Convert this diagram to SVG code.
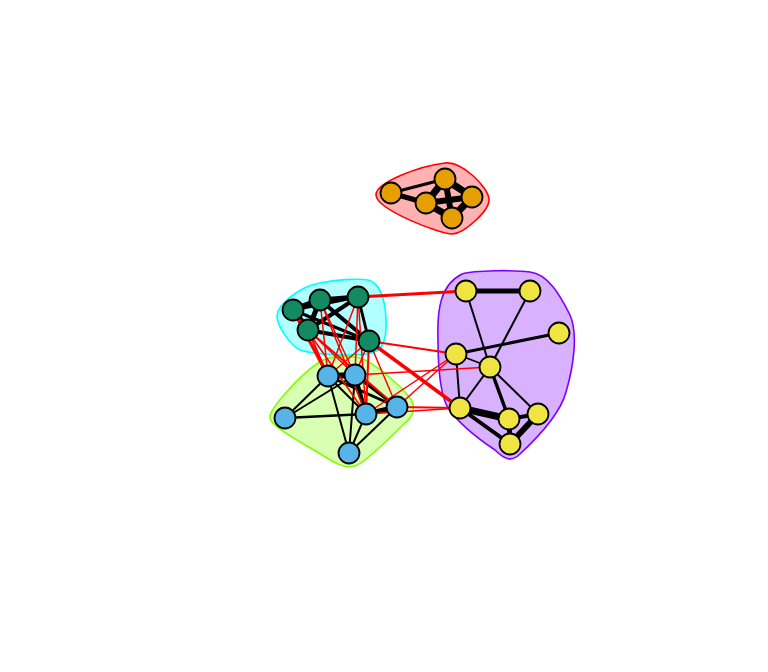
<svg xmlns="http://www.w3.org/2000/svg" width="768" height="672" viewBox="0 0 768 672">
<style>
.hull{stroke-width:1.6}
.e{stroke:#000;fill:none}
.r{stroke:#FF0000;fill:none}
.n{stroke:#000;stroke-width:1.8}
.o{fill:#E69F00}.g{fill:#138A62}.b{fill:#56B4E9}.y{fill:#F0E442}
</style>
<rect width="768" height="672" fill="#fff"/>
<g id="hulls">
<path id="hull-red" class="hull" fill="#FF0000" fill-opacity="0.3" stroke="#FF0000" d="M376,195 C376,182 420,166 445,163 C462,161 488,187 489,199 C490,211 463,234 452,234 C440,234 377,210 376,195 Z"/>
<path id="hull-cyan" class="hull" fill="#00FFFF" fill-opacity="0.3" stroke="#00FFFF" d="M277,316 C277,305 300,286 320,283 C335,280 356,278 368,280 C380,283 385,300 386,318 C387,338 384,352 368,354 C350,356 315,355 300,350 C290,345 277,326 277,316 Z"/>
<path id="hull-green" class="hull" fill="#80FF00" fill-opacity="0.3" stroke="#80FF00" d="M270,418 C268,410 300,375 318,363 C330,355 348,355 360,358 C375,363 400,385 410,398 C416,406 414,416 405,423 C390,438 365,463 355,466 C345,469 335,463 322,455 C305,444 272,428 270,418 Z"/>
<path id="hull-purple" class="hull" fill="#8000FF" fill-opacity="0.3" stroke="#8000FF" d="M438,340 C437,310 440,285 462,274 C475,270 515,270 530,272 C548,274 560,295 570,315 C578,333 574,365 566,392 C560,415 535,440 520,454 C512,462 505,460 495,450 C480,440 460,425 448,408 C440,394 438,365 438,340 Z"/>
</g>
<g id="connectors">
<!-- orange -->
<line class="e" stroke-width="3" x1="391" y1="193" x2="445" y2="179"/>
<line class="e" stroke-width="5" x1="391" y1="193" x2="426" y2="203"/>
<line class="e" stroke-width="7" x1="445" y1="179" x2="426" y2="203"/>
<line class="e" stroke-width="7" x1="445" y1="179" x2="472" y2="197"/>
<line class="e" stroke-width="6" x1="445" y1="179" x2="452" y2="218"/>
<line class="e" stroke-width="6" x1="426" y1="203" x2="472" y2="197"/>
<line class="e" stroke-width="7" x1="426" y1="203" x2="452" y2="218"/>
<line class="e" stroke-width="7" x1="472" y1="197" x2="452" y2="218"/>
<!-- green internal -->
<line class="e" stroke-width="6" x1="293" y1="310" x2="320" y2="300"/>
<line class="e" stroke-width="6" x1="293" y1="310" x2="308" y2="330"/>
<line class="e" stroke-width="5" x1="320" y1="300" x2="308" y2="330"/>
<line class="e" stroke-width="5" x1="320" y1="300" x2="358" y2="297"/>
<line class="e" stroke-width="3" x1="293" y1="310" x2="358" y2="297"/>
<line class="e" stroke-width="4" x1="358" y1="297" x2="308" y2="330"/>
<line class="e" stroke-width="4" x1="320" y1="300" x2="369" y2="341"/>
<line class="e" stroke-width="4" x1="308" y1="330" x2="369" y2="341"/>
<line class="e" stroke-width="3" x1="293" y1="310" x2="369" y2="341"/>
<line class="e" stroke-width="3" x1="358" y1="297" x2="369" y2="341"/>
<!-- blue internal -->
<line class="e" stroke-width="6" x1="328" y1="376" x2="355" y2="375"/>
<line class="e" stroke-width="2" x1="328" y1="376" x2="285" y2="418"/>
<line class="e" stroke-width="2" x1="355" y1="375" x2="285" y2="418"/>
<line class="e" stroke-width="2" x1="328" y1="376" x2="366" y2="414"/>
<line class="e" stroke-width="3" x1="328" y1="376" x2="397" y2="407"/>
<line class="e" stroke-width="2" x1="328" y1="376" x2="349" y2="453"/>
<line class="e" stroke-width="4" x1="355" y1="375" x2="366" y2="414"/>
<line class="e" stroke-width="3" x1="355" y1="375" x2="397" y2="407"/>
<line class="e" stroke-width="2" x1="355" y1="375" x2="349" y2="453"/>
<line class="e" stroke-width="2.5" x1="285" y1="418" x2="366" y2="414"/>
<line class="e" stroke-width="5" x1="366" y1="414" x2="397" y2="407"/>
<line class="e" stroke-width="2" x1="366" y1="414" x2="349" y2="453"/>
<line class="e" stroke-width="2" x1="397" y1="407" x2="349" y2="453"/>
<!-- yellow internal -->
<line class="e" stroke-width="5" x1="466" y1="291" x2="530" y2="291"/>
<line class="e" stroke-width="2" x1="466" y1="291" x2="490" y2="367"/>
<line class="e" stroke-width="2" x1="530" y1="291" x2="490" y2="367"/>
<line class="e" stroke-width="3" x1="559" y1="333" x2="456" y2="354"/>
<line class="e" stroke-width="1.5" x1="456" y1="354" x2="490" y2="367"/>
<line class="e" stroke-width="2" x1="456" y1="354" x2="460" y2="408"/>
<line class="e" stroke-width="2" x1="490" y1="367" x2="460" y2="408"/>
<line class="e" stroke-width="3.5" x1="490" y1="367" x2="509" y2="419"/>
<line class="e" stroke-width="2" x1="490" y1="367" x2="538" y2="414"/>
<line class="e" stroke-width="7" x1="460" y1="408" x2="509" y2="419"/>
<line class="e" stroke-width="4" x1="460" y1="408" x2="510" y2="444"/>
<line class="e" stroke-width="5" x1="509" y1="419" x2="510" y2="444"/>
<line class="e" stroke-width="6" x1="538" y1="414" x2="510" y2="444"/>
<line class="e" stroke-width="4" x1="509" y1="419" x2="538" y2="414"/>
<!-- red green-blue -->
<line class="r" stroke-width="3" x1="293" y1="310" x2="328" y2="376"/>
<line class="r" stroke-width="2" x1="308" y1="330" x2="328" y2="376"/>
<line class="r" stroke-width="1.5" x1="308" y1="330" x2="355" y2="375"/>
<line class="r" stroke-width="1.5" x1="320" y1="300" x2="328" y2="376"/>
<line class="r" stroke-width="1.5" x1="320" y1="300" x2="355" y2="375"/>
<line class="r" stroke-width="1.5" x1="320" y1="300" x2="366" y2="414"/>
<line class="r" stroke-width="1.5" x1="358" y1="297" x2="328" y2="376"/>
<line class="r" stroke-width="1.5" x1="358" y1="297" x2="355" y2="375"/>
<line class="r" stroke-width="1.5" x1="358" y1="297" x2="366" y2="414"/>
<line class="r" stroke-width="1.5" x1="369" y1="341" x2="328" y2="376"/>
<line class="r" stroke-width="1.5" x1="369" y1="341" x2="355" y2="375"/>
<line class="r" stroke-width="2" x1="369" y1="341" x2="366" y2="414"/>
<line class="r" stroke-width="1.5" x1="369" y1="341" x2="397" y2="407"/>
<line class="r" stroke-width="2" x1="308" y1="330" x2="397" y2="407"/>
<line class="r" stroke-width="1.5" x1="293" y1="310" x2="366" y2="414"/>
<!-- red green-yellow -->
<line class="r" stroke-width="3" x1="358" y1="297" x2="466" y2="291"/>
<line class="r" stroke-width="2" x1="369" y1="341" x2="456" y2="354"/>
<line class="r" stroke-width="3.5" x1="369" y1="341" x2="460" y2="408"/>
<!-- red blue-yellow -->
<line class="r" stroke-width="1.5" x1="355" y1="375" x2="490" y2="367"/>
<line class="r" stroke-width="1.5" x1="366" y1="414" x2="456" y2="354"/>
<line class="r" stroke-width="1.5" x1="397" y1="407" x2="456" y2="354"/>
<line class="r" stroke-width="2" x1="397" y1="407" x2="460" y2="408"/>
<line class="r" stroke-width="1.5" x1="366" y1="414" x2="460" y2="408"/>
</g>
<g id="O1"><circle class="n o" cx="391" cy="193" r="10.5"/></g>
<g id="O2"><circle class="n o" cx="445" cy="179" r="10.5"/></g>
<g id="O3"><circle class="n o" cx="426" cy="203" r="10.5"/></g>
<g id="O4"><circle class="n o" cx="472" cy="197" r="10.5"/></g>
<g id="O5"><circle class="n o" cx="452" cy="218" r="10.5"/></g>
<g id="G1"><circle class="n g" cx="293" cy="310" r="10.5"/></g>
<g id="G2"><circle class="n g" cx="320" cy="300" r="10.5"/></g>
<g id="G3"><circle class="n g" cx="358" cy="297" r="10.5"/></g>
<g id="G4"><circle class="n g" cx="308" cy="330" r="10.5"/></g>
<g id="G5"><circle class="n g" cx="369" cy="341" r="10.5"/></g>
<g id="B1"><circle class="n b" cx="328" cy="376" r="10.5"/></g>
<g id="B2"><circle class="n b" cx="355" cy="375" r="10.5"/></g>
<g id="B3"><circle class="n b" cx="285" cy="418" r="10.5"/></g>
<g id="B4"><circle class="n b" cx="366" cy="414" r="10.5"/></g>
<g id="B5"><circle class="n b" cx="397" cy="407" r="10.5"/></g>
<g id="B6"><circle class="n b" cx="349" cy="453" r="10.5"/></g>
<g id="Y1"><circle class="n y" cx="466" cy="291" r="10.5"/></g>
<g id="Y2"><circle class="n y" cx="530" cy="291" r="10.5"/></g>
<g id="Y3"><circle class="n y" cx="559" cy="333" r="10.5"/></g>
<g id="Y4"><circle class="n y" cx="456" cy="354" r="10.5"/></g>
<g id="Y5"><circle class="n y" cx="490" cy="367" r="10.5"/></g>
<g id="Y6"><circle class="n y" cx="460" cy="408" r="10.5"/></g>
<g id="Y7"><circle class="n y" cx="509" cy="419" r="10.5"/></g>
<g id="Y8"><circle class="n y" cx="538" cy="414" r="10.5"/></g>
<g id="Y9"><circle class="n y" cx="510" cy="444" r="10.5"/></g>
</svg>
